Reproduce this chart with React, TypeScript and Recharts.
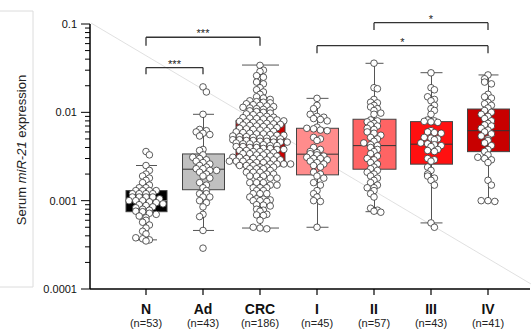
import React from "react";
import { ComposedChart, Bar, Scatter, XAxis, YAxis, ReferenceLine } from "recharts";

const W = 531;
const H = 331;
const PLOT_TOP = 24;
const PLOT_BOTTOM = 289;
const FONT = '"Liberation Sans", Arial, Helvetica, sans-serif';

const GROUPS = ["N", "Ad", "CRC", "I", "II", "III", "IV"];
const COUNTS = [53, 43, 186, 45, 57, 43, 41];

// box statistics
const WHISKER_LOW = [0.00036, 0.00046, 0.00049, 0.0005, 0.00075, 0.00056, 0.001];
const Q1 = [0.00075, 0.00133, 0.00248, 0.00196, 0.00227, 0.00259, 0.00359];
const MEDIAN = [0.001, 0.00227, 0.0045, 0.00336, 0.0042, 0.00436, 0.0062];
const Q3 = [0.0013, 0.00338, 0.00805, 0.0066, 0.00835, 0.00785, 0.0109];
const WHISKER_HIGH = [0.0025, 0.0095, 0.0343, 0.0144, 0.0359, 0.0281, 0.0265];

// individual samples (estimated from the dots)
const N_VALUES = [
  0.0036, 0.0033, 0.0025, 0.0022, 0.002, 0.0019, 0.0018, 0.0017, 0.0016, 0.0015, 0.0014, 0.0014,
  0.0013, 0.0013, 0.0013, 0.0013, 0.0012, 0.0012, 0.0012, 0.0012, 0.0011, 0.0011, 0.0011, 0.0011,
  0.00105, 0.001, 0.001, 0.001, 0.00097, 0.00095, 0.00092, 0.0009, 0.00088, 0.00085, 0.00083, 0.0008,
  0.00078, 0.00076, 0.00075, 0.00072, 0.0007, 0.00067, 0.00064, 0.0006, 0.00057, 0.00053, 0.00049,
  0.00045, 0.00042, 0.00038, 0.00037, 0.00036, 0.00035,
];
const AD_VALUES = [
  0.0194, 0.017, 0.0095, 0.0064, 0.0062, 0.006, 0.0058, 0.0056, 0.0054, 0.0038, 0.0037, 0.0033,
  0.0031, 0.003, 0.0029, 0.0028, 0.0027, 0.0026, 0.0025, 0.0024, 0.0023, 0.0023, 0.0022, 0.0022,
  0.0021, 0.002, 0.0019, 0.0018, 0.0016, 0.0015, 0.0014, 0.0013, 0.0012, 0.0012, 0.0011, 0.0011,
  0.001, 0.00095, 0.00085, 0.0007, 0.00066, 0.00046, 0.00029,
];
const CRC_VALUES = [
  0.034, 0.03, 0.029, 0.026, 0.025, 0.022, 0.021, 0.019, 0.018, 0.017, 0.016, 0.015, 0.0145, 0.014,
  0.0135, 0.0132, 0.013, 0.0128, 0.0125, 0.0122, 0.012, 0.0118, 0.0116, 0.0114, 0.0112, 0.011,
  0.0108, 0.0106, 0.0104, 0.0102, 0.01, 0.0098, 0.0096, 0.0094, 0.0092, 0.009, 0.0088, 0.0087,
  0.0086, 0.0085, 0.0084, 0.0083, 0.0082,
  0.008, 0.0079, 0.0078, 0.0077, 0.0076, 0.0075, 0.0074, 0.0073, 0.0072, 0.0071, 0.007, 0.0069,
  0.0068, 0.0067, 0.0066, 0.0065, 0.0064, 0.0063, 0.0062, 0.0061, 0.006, 0.0059, 0.0058, 0.0057,
  0.0057, 0.0056, 0.0055, 0.0055, 0.0054, 0.0053, 0.0053, 0.0052, 0.0051, 0.0051, 0.005, 0.005,
  0.0049, 0.0049, 0.0048, 0.0048, 0.0047, 0.0047, 0.0046, 0.0046, 0.0046, 0.0045,
  0.0044, 0.0044, 0.0043, 0.0043, 0.0042, 0.0042, 0.0041, 0.0041, 0.004, 0.004, 0.0039, 0.0039,
  0.0038, 0.0038, 0.0037, 0.0037, 0.0036, 0.0036, 0.0035, 0.0035, 0.0034, 0.0034, 0.0033, 0.0033,
  0.0032, 0.0032, 0.0031, 0.0031, 0.003, 0.003, 0.003, 0.0029, 0.0029, 0.0029, 0.0028, 0.0028,
  0.0028, 0.0027, 0.0027, 0.0027, 0.0026, 0.0026, 0.0026, 0.0026, 0.0025, 0.0025, 0.0025,
  0.0024, 0.0024, 0.0024, 0.0023, 0.0023, 0.0023, 0.0022, 0.0021, 0.0021, 0.0021, 0.002, 0.002,
  0.0019, 0.0019, 0.0019, 0.0018, 0.0018, 0.0017, 0.0016, 0.0016, 0.0016, 0.0015, 0.0015,
  0.0014, 0.0014, 0.0014, 0.0013, 0.0013, 0.0012, 0.0012, 0.0012, 0.0011, 0.00105, 0.00104,
  0.00102, 0.001, 0.001, 0.00098, 0.0009, 0.00089, 0.00087, 0.0008, 0.00078, 0.00076, 0.0007,
  0.00069, 0.00068, 0.0006, 0.0005, 0.00049, 0.00048,
];
const I_VALUES = [
  0.0144, 0.012, 0.011, 0.0095, 0.009, 0.0088, 0.0085, 0.0083, 0.008, 0.0068, 0.0066, 0.0065,
  0.0063, 0.0062, 0.0052, 0.005, 0.0048, 0.004, 0.0038, 0.0036, 0.0035, 0.0034, 0.0033, 0.0032,
  0.0031, 0.003, 0.003, 0.0029, 0.0028, 0.0027, 0.0026, 0.0025, 0.0024, 0.0021, 0.002, 0.0019,
  0.0018, 0.0016, 0.0015, 0.0013, 0.0012, 0.0011, 0.001, 0.00098, 0.0005,
];
const II_VALUES = [
  0.036, 0.019, 0.0185, 0.014, 0.013, 0.0128, 0.012, 0.0115, 0.011, 0.0105, 0.0098, 0.0095,
  0.0082, 0.008, 0.0078, 0.0075, 0.0072, 0.007, 0.0066, 0.0064, 0.006, 0.0058, 0.0055, 0.0052,
  0.005, 0.0047, 0.0045, 0.0043, 0.0042, 0.004, 0.0038, 0.0036, 0.0034, 0.0032, 0.003, 0.0029,
  0.0027, 0.0026, 0.0024, 0.0023, 0.0022, 0.0021, 0.002, 0.0019, 0.0018, 0.0017, 0.0016, 0.0015,
  0.0014, 0.0014, 0.0013, 0.0012, 0.0011, 0.00082, 0.00078, 0.00076, 0.00074,
];
const III_VALUES = [
  0.028, 0.019, 0.018, 0.015, 0.014, 0.0135, 0.012, 0.011, 0.0105, 0.0095, 0.0082, 0.008, 0.0079,
  0.0078, 0.0077, 0.0062, 0.006, 0.0059, 0.0058, 0.0052, 0.0051, 0.005, 0.0049, 0.0045, 0.0044,
  0.0043, 0.0042, 0.0041, 0.0038, 0.0037, 0.0036, 0.003, 0.0029, 0.0028, 0.0024, 0.0022, 0.002,
  0.0019, 0.0018, 0.0017, 0.0015, 0.00056, 0.0005,
];
const IV_VALUES = [
  0.0265, 0.024, 0.022, 0.021, 0.016, 0.015, 0.0145, 0.013, 0.0125, 0.012, 0.0112, 0.0105, 0.01,
  0.0095, 0.009, 0.0085, 0.008, 0.0075, 0.0072, 0.007, 0.0066, 0.0063, 0.006, 0.0057, 0.0054,
  0.005, 0.0048, 0.0045, 0.0042, 0.0038, 0.0036, 0.0033, 0.0031, 0.003, 0.0029, 0.0027, 0.0017,
  0.0015, 0.001, 0.001, 0.00098,
];
const GROUP_VALUES = [N_VALUES, AD_VALUES, CRC_VALUES, I_VALUES, II_VALUES, III_VALUES, IV_VALUES];

const Y_TICKS = [
  0.0001, 0.0002, 0.0003, 0.0004, 0.0005, 0.0006, 0.0007, 0.0008, 0.0009,
  0.001, 0.002, 0.003, 0.004, 0.005, 0.006, 0.007, 0.008, 0.009,
  0.01, 0.02, 0.03, 0.04, 0.05, 0.06, 0.07, 0.08, 0.09, 0.1,
];
const Y_LABELS: Record<string, string> = { "0.0001": "0.0001", "0.001": "0.001", "0.01": "0.01", "0.1": "0.1" };

// significance brackets: group index from/to, bar height, foot height
const BRACKETS = [
  { from: 0, to: 1, y: 0.0321, foot: 0.027, label: "***" },
  { from: 0, to: 2, y: 0.0708, foot: 0.0569, label: "***" },
  { from: 3, to: 6, y: 0.0569, foot: 0.0467, label: "*" },
  { from: 4, to: 6, y: 0.1035, foot: 0.0855, label: "*" },
];

const COLORS = ["#000000", "#c0c0c0", "#cc0000", "#ff8c8c", "#ff6464", "#ff1010", "#c80000"];
const BOX_WIDTH = [41, 42, 49, 42, 43, 42, 42];
const CAP_WIDTH = [21, 21, 37, 22, 18, 22, 20];
const R = 3.3;
const BIN = 3.6;
const STEP = 6.8;
const PX_PER_DECADE = (PLOT_BOTTOM - PLOT_TOP) / 3;

// prism-like scatter: dots binned in thin rows and spread sideways
function swarmOffsets(values: number[]): number[] {
  const ys = values.map((v) => -Math.log10(v) * PX_PER_DECADE);
  const bins = new Map<number, number[]>();
  ys.forEach((y, i) => {
    const b = Math.round(y / BIN);
    if (!bins.has(b)) bins.set(b, []);
    bins.get(b)!.push(i);
  });
  const dx = new Array(values.length).fill(0);
  const keys = [...bins.keys()].sort((a, b) => a - b);
  let prevKey = -1e9;
  let prevShift = 0;
  let prevParity = -1;
  for (const key of keys) {
    const idxs = bins.get(key)!;
    const k = idxs.length;
    let shift = 0;
    if (key - prevKey === 1 && k % 2 === prevParity && prevShift === 0) shift = (STEP / 2) * (key % 2 ? 1 : -1);
    idxs.forEach((i, j) => {
      dx[i] = (j - (k - 1) / 2) * STEP + shift;
    });
    prevKey = key;
    prevShift = shift;
    prevParity = k % 2;
  }
  return dx;
}

const chartData = GROUPS.map((name, idx) => ({
  idx,
  name,
  whisker: [WHISKER_LOW[idx], WHISKER_HIGH[idx]],
  box: [Q1[idx], Q3[idx]],
  median: MEDIAN[idx],
}));

const points = GROUP_VALUES.flatMap((vals, idx) => {
  const dx = swarmOffsets(vals);
  return vals.map((v, k) => ({ idx, v, dx: dx[k] }));
});

const WhiskerShape = (props: any) => {
  const { x, y, width, height, payload } = props;
  const top = Math.min(y, y + height);
  const bottom = Math.max(y, y + height);
  const cx = x + width / 2;
  const cw = CAP_WIDTH[payload.idx] / 2;
  return (
    <g stroke="#555" strokeWidth={1}>
      <line x1={cx} x2={cx} y1={top} y2={bottom} />
      <line x1={cx - cw} x2={cx + cw} y1={top} y2={top} />
      <line x1={cx - cw} x2={cx + cw} y1={bottom} y2={bottom} />
    </g>
  );
};

const BoxShape = (props: any) => {
  const { x, y, width, height, payload } = props;
  const top = Math.min(y, y + height);
  const h = Math.abs(height);
  const cx = x + width / 2;
  const bw = BOX_WIDTH[payload.idx];
  const [lo, hi] = payload.box;
  const my = top + (h * (Math.log10(hi) - Math.log10(payload.median))) / (Math.log10(hi) - Math.log10(lo));
  return (
    <g>
      <rect x={cx - bw / 2} y={top} width={bw} height={h} fill={COLORS[payload.idx]} stroke="#444" strokeWidth={1} />
      <line x1={cx - bw / 2} x2={cx + bw / 2} y1={my} y2={my} stroke={payload.idx === 0 ? "#888" : "#333"} strokeWidth={1} />
    </g>
  );
};

const Dot = (props: any) => {
  const { cx, cy, payload } = props;
  if (cx == null || cy == null) return null;
  return <circle cx={cx + payload.dx} cy={cy} r={R} fill="#fff" stroke="#333" strokeWidth={0.8} />;
};

const YTick = (props: any) => {
  const { x, y, payload } = props;
  const label = Y_LABELS[String(payload.value)];
  return (
    <g>
      <line x1={x + (label ? 3 : 7)} x2={x + 12} y1={y} y2={y} stroke="#000" strokeWidth={1} />
      {label && (
        <text x={x - 1} y={y} dy={4} textAnchor="end" fontSize={11} fill="#111" fontFamily={FONT}>
          {label}
        </text>
      )}
    </g>
  );
};

const XTick = (props: any) => {
  const { x, y, payload } = props;
  const i = payload.value;
  return (
    <g fontFamily={FONT} textAnchor="middle">
      <text x={x} y={y + 17} fontSize={14} fontWeight="bold" fill="#111">
        {GROUPS[i]}
      </text>
      <text x={x} y={y + 30} fontSize={11} fill="#222">
        {`(n=${COUNTS[i]})`}
      </text>
    </g>
  );
};

export default function App() {
  return (
    <div style={{ position: "absolute", left: 0, top: 0, width: W, height: H, background: "#fff", fontFamily: FONT }}>
      <svg width={W} height={H} style={{ position: "absolute", left: 0, top: 0 }}>
        <path d="M0 11 H33 V287 H0" fill="none" stroke="#dcdcdc" strokeWidth={1} />
        <line x1={91} y1={23} x2={531} y2={284} stroke="#d2d2d2" strokeWidth={0.7} />
        <text transform="translate(26 150) rotate(-90)" textAnchor="middle" fontSize={13} fill="#222" fontFamily={FONT}>
          {"Serum "}
          <tspan fontStyle="italic">miR-21</tspan>
          {" expression"}
        </text>
      </svg>
      <div style={{ position: "absolute", left: 0, top: 0 }}>
        <ComposedChart
          width={W}
          height={H}
          data={chartData}
          margin={{ top: PLOT_TOP, right: 1, bottom: H - PLOT_BOTTOM - 40, left: 0 }}
        >
          <XAxis
            xAxisId="main"
            dataKey="idx"
            type="number"
            domain={[0, 6]}
            ticks={[0, 1, 2, 3, 4, 5, 6]}
            interval={0}
            padding={{ left: 56, right: 42 }}
            height={40}
            axisLine={{ stroke: "#000", strokeWidth: 1.5 }}
            tickLine={{ stroke: "#000", strokeWidth: 1.2 }}
            tickSize={6}
            tickMargin={2}
            tick={<XTick />}
          />
          <XAxis
            xAxisId="box"
            dataKey="idx"
            type="number"
            domain={[0, 6]}
            ticks={[0, 1, 2, 3, 4, 5, 6]}
            padding={{ left: 56, right: 42 }}
            orientation="top"
            height={0}
            hide
          />
          <YAxis
            type="number"
            scale="log"
            domain={[0.0001, 0.1]}
            allowDataOverflow
            ticks={Y_TICKS}
            interval={0}
            width={90}
            axisLine={{ stroke: "#000", strokeWidth: 1.5 }}
            tickLine={false}
            tickSize={9}
            tickMargin={3}
            tick={<YTick />}
          />
          <Bar xAxisId="main" dataKey="whisker" barSize={40} shape={<WhiskerShape />} isAnimationActive={false} />
          <Bar xAxisId="box" dataKey="box" barSize={40} shape={<BoxShape />} isAnimationActive={false} />
          <Scatter xAxisId="main" data={points} dataKey="v" shape={<Dot />} isAnimationActive={false} />
          {BRACKETS.map((b, k) => (
            <ReferenceLine
              key={`h${k}`}
              xAxisId="main"
              segment={[{ x: b.from, y: b.y }, { x: b.to, y: b.y }]}
              ifOverflow="visible"
              stroke="#333"
              strokeWidth={1.3}
              label={{ value: b.label, position: "top", fontSize: 11, fill: "#222", offset: 0 }}
            />
          ))}
          {BRACKETS.flatMap((b, k) =>
            [b.from, b.to].map((gx, j) => (
              <ReferenceLine
                key={`f${k}-${j}`}
                xAxisId="main"
                segment={[{ x: gx, y: b.y }, { x: gx, y: b.foot }]}
                ifOverflow="visible"
                stroke="#333"
                strokeWidth={1.3}
              />
            ))
          )}
        </ComposedChart>
      </div>
    </div>
  );
}
